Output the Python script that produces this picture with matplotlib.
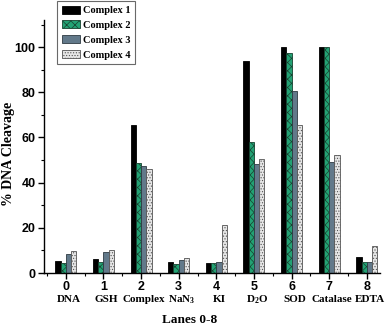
import numpy as np
import matplotlib
matplotlib.use('Agg')
import matplotlib.pyplot as plt
from matplotlib.ticker import MultipleLocator
from matplotlib.patches import Patch

# data
lanes = [0, 1, 2, 3, 4, 5, 6, 7, 8]
lane_names = ['DNA', 'GSH', 'Complex', 'NaN$_\\mathbf{3}$', 'KI', 'D$_\\mathbf{2}$O',
              'SOD', 'Catalase', 'EDTA']
complex1 = [5.3, 6.3, 65.5, 5.0, 4.6, 93.9, 100.0, 100.0, 7.0]
complex2 = [4.6, 4.7, 48.9, 4.1, 4.3, 58.2, 97.2, 100.0, 4.9]
complex3 = [8.2, 9.2, 47.3, 5.6, 5.0, 48.3, 80.7, 49.0, 4.9]
complex4 = [9.8, 10.1, 45.9, 6.8, 21.4, 50.4, 65.5, 52.1, 12.1]
series_names = ['Complex 1', 'Complex 2', 'Complex 3', 'Complex 4']

plt.rcParams['hatch.linewidth'] = 0.5
plt.rcParams['mathtext.fontset'] = 'custom'
plt.rcParams['mathtext.bf'] = 'Liberation Serif:bold'
plt.rcParams['mathtext.rm'] = 'Liberation Serif:bold'
serif = 'Liberation Serif'
sans = 'Liberation Sans'

fig = plt.figure(figsize=(3.89, 3.26), dpi=100)
ax = fig.add_axes([44/389, 53/326, 336/389, 253/326])

styles = [
    dict(facecolor='black', edgecolor='black', hatch=None),
    dict(facecolor='#23a274', edgecolor='#17412f', hatch='xxxx'),
    dict(facecolor='#62798a', edgecolor='#2e3a42', hatch=None),
    dict(facecolor='#e6e6e6', edgecolor='#555555', hatch='......'),
]

x = np.array(lanes, dtype=float)
w = 0.14
for i, (vals, st) in enumerate(zip([complex1, complex2, complex3, complex4], styles)):
    ax.bar(x + (i - 1.5) * w, vals, width=w, facecolor=st['facecolor'],
           edgecolor=st['edgecolor'], hatch=st['hatch'], linewidth=0.6)

ax.set_xlim(-0.58, 8.35)
ax.set_ylim(0, 112)
ax.spines['top'].set_visible(False)
ax.spines['right'].set_visible(False)
ax.spines['left'].set_linewidth(1.0)
ax.spines['bottom'].set_linewidth(1.0)

ax.set_xticks(lanes)
ax.set_xticklabels([str(l) for l in lanes], fontfamily=sans, fontweight='bold', fontsize=9)
ax.xaxis.set_minor_locator(MultipleLocator(0.5))
ax.yaxis.set_major_locator(MultipleLocator(20))
ax.yaxis.set_minor_locator(MultipleLocator(10))
for lab in ax.get_yticklabels():
    lab.set_fontfamily(sans)
    lab.set_fontweight('bold')
    lab.set_fontsize(9)
ax.tick_params(which='major', direction='out', length=4, width=1, pad=2)
ax.tick_params(which='minor', direction='out', length=2.5, width=0.8)

# lane names below tick numbers
for xi, name in zip(x, lane_names):
    ax.text(xi + 0.08, -0.105, name, transform=ax.get_xaxis_transform(),
            ha='center', va='center', fontfamily=serif, fontweight='bold', fontsize=8)

ax.set_ylabel('% DNA Cleavage', fontfamily=serif, fontweight='bold', fontsize=10)
ax.yaxis.set_label_coords(-0.085, 0.47)
fig.text(190/389, 1 - 320/326, 'Lanes 0-8', ha='center', va='center',
         fontfamily=serif, fontweight='bold', fontsize=9.5)

handles = [Patch(facecolor=st['facecolor'], edgecolor=st['edgecolor'], hatch=st['hatch'],
                 linewidth=0.6) for st in styles]
leg = fig.legend(handles, series_names, loc='upper left',
                 bbox_to_anchor=(57/389, 1 - 1/326), frameon=True, fancybox=False,
                 prop={'family': serif, 'weight': 'bold', 'size': 7.5},
                 handlelength=1.8, handleheight=0.8, handletextpad=0.2,
                 labelspacing=0.5, borderpad=0.45, borderaxespad=0)
leg.get_frame().set_edgecolor('#444444')
leg.get_frame().set_linewidth(0.8)

fig.savefig('out.png', dpi=100)
